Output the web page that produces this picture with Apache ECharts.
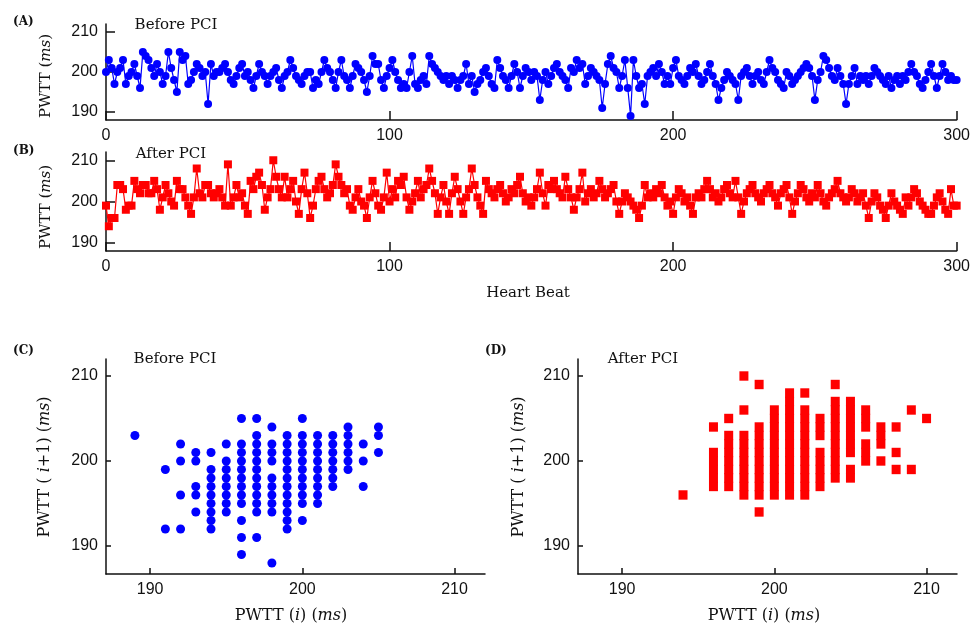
<!DOCTYPE html>
<html>
<head>
<meta charset="utf-8">
<script src="https://cdn.jsdelivr.net/npm/echarts@6/dist/echarts.min.js"></script>
<style>
body { margin: 0; background: #fff; }
#main { width: 973px; height: 625px; }
</style>
</head>
<body>
<div id="main"></div>
<script>
// PWTT series, heart beat 0..300
var pwttBefore = [
	200,203,201,197,200,201,203,197,199,200,202,199,196,205,204,203,201,199,202,200,197,199,205,201,198,
	195,205,203,204,197,198,200,202,201,199,200,192,202,199,200,200,201,202,200,198,197,199,201,202,199,
	200,198,196,199,202,200,199,197,199,200,201,198,196,199,200,203,201,199,198,197,199,200,200,196,198,
	197,200,203,201,200,198,196,200,203,199,198,196,199,202,201,200,198,195,199,204,202,202,198,196,199,
	201,203,200,198,196,197,196,200,204,197,196,198,199,197,204,202,201,200,199,198,199,197,199,198,196,
	198,199,202,197,199,195,197,198,200,201,199,197,196,203,201,199,198,196,199,202,200,196,199,201,200,
	198,200,199,193,198,200,197,199,201,202,200,199,198,196,201,200,203,201,202,197,199,201,200,199,198,
	191,197,202,204,201,200,196,199,203,196,189,203,199,196,197,192,199,200,201,199,202,200,197,199,197,
	201,203,199,198,197,199,201,200,202,199,197,198,200,202,199,197,193,196,198,200,199,198,197,193,199,
	200,201,199,197,199,200,198,197,200,203,201,200,198,197,196,200,199,197,198,199,200,201,202,201,199,
	193,198,200,204,203,201,199,198,201,199,197,192,197,199,201,197,199,198,199,197,199,201,200,199,198,
	197,199,196,198,199,197,199,198,200,202,200,199,197,196,198,200,202,199,196,199,202,200,198,199,198,198
];
var pwttAfter = [
	199,194,196,196,204,204,203,198,199,199,205,203,202,204,204,202,202,205,203,198,201,204,202,200,199,
	205,203,203,201,199,197,201,208,202,201,204,204,202,201,202,203,201,199,209,199,201,204,201,202,199,
	197,205,203,206,207,204,198,201,203,210,206,203,201,206,201,203,205,200,197,203,207,202,196,199,203,
	205,206,203,201,202,204,209,206,204,202,203,199,198,201,203,200,199,196,201,205,202,199,198,201,207,
	200,203,201,205,204,206,201,198,200,202,205,201,203,204,208,205,202,197,201,204,200,197,202,206,203,
	200,197,201,203,208,204,201,199,197,205,203,202,201,203,204,202,200,201,203,202,204,206,202,200,201,
	199,201,203,207,202,199,204,203,205,203,202,201,206,203,201,198,201,203,207,200,202,203,201,202,205,
	203,201,202,203,204,200,197,200,202,201,200,199,198,196,199,204,201,202,201,203,202,204,201,199,200,
	197,201,203,202,200,201,199,197,201,202,201,203,205,203,201,202,200,201,203,204,202,201,205,201,197,
	200,202,203,204,202,201,200,202,203,204,202,201,199,202,203,204,201,197,200,202,204,203,201,200,202,
	201,204,202,200,199,201,202,203,205,202,201,200,201,203,202,200,201,202,199,196,200,202,201,199,198,
	196,199,202,200,199,198,197,201,199,201,203,202,200,199,198,197,197,199,201,202,200,198,197,203,199,199
];

// Poincare plots: PWTT(i) columns and the PWTT(i+1) values seen in each
var beforeMapX = [189, 191, 192, 193, 194, 195, 196, 197, 198, 199, 200, 201, 202, 203, 204, 205];
var beforeMapY = [
	[203],
	[199, 192],
	[202, 200, 196, 192],
	[201, 200, 197, 196, 194],
	[201, 199, 198, 197, 196, 195, 194, 193, 192],
	[202, 200, 199, 198, 197, 196, 195, 194],
	[205, 202, 201, 200, 199, 198, 197, 196, 195, 193, 191, 189],
	[205, 203, 202, 201, 200, 199, 198, 197, 196, 195, 194, 191],
	[204, 202, 201, 200, 198, 197, 196, 195, 194, 188],
	[203, 202, 201, 200, 199, 198, 197, 196, 195, 194, 193, 192],
	[205, 203, 202, 201, 200, 199, 198, 197, 196, 195, 193],
	[203, 202, 201, 200, 199, 198, 197, 196, 195],
	[203, 202, 201, 200, 199, 198, 197],
	[204, 203, 202, 201, 200, 199],
	[202, 200, 197],
	[204, 203, 201]
];
var afterMapX = [194, 196, 197, 198, 199, 200, 201, 202, 203, 204, 205, 206, 207, 208, 209, 210];
var afterMapY = [
	[196],
	[204, 201, 200, 199, 198, 197],
	[205, 203, 202, 201, 200, 199, 198, 197],
	[210, 206, 203, 202, 201, 200, 199, 198, 197, 196],
	[209, 204, 203, 202, 201, 200, 199, 198, 197, 196, 194],
	[206, 205, 204, 203, 202, 201, 200, 199, 198, 197, 196],
	[208, 207, 206, 205, 204, 203, 202, 201, 200, 199, 198, 197, 196],
	[208, 206, 205, 204, 203, 202, 201, 200, 199, 198, 197, 196],
	[205, 204, 203, 201, 200, 199, 198, 197],
	[209, 207, 206, 205, 204, 203, 202, 201, 200, 199, 198],
	[207, 206, 205, 204, 203, 202, 201, 199, 198],
	[206, 205, 204, 202, 201, 200],
	[204, 203, 202, 200],
	[204, 201, 199],
	[206, 199],
	[205]
];

var heartTicks = [0, 100, 200, 300];
var pwttTicks = [190, 200, 210];

function toPairs(list) {
	var out = [];
	for (var i = 0; i < list.length; i++) {
		out.push([i, list[i]]);
	}
	return out;
}

function mapPairs(xs, ys) {
	var out = [];
	for (var i = 0; i < xs.length; i++) {
		for (var j = 0; j < ys[i].length; j++) {
			out.push([xs[i], ys[i][j]]);
		}
	}
	return out;
}

var tickFont = 'Liberation Sans';
var serif = 'DejaVu Serif';

function makeAxis(grid, min, max, ticks, tickLen) {
	return {
		type : 'value',
		gridIndex : grid,
		min : min,
		max : max,
		splitLine : { show : false },
		axisLine : { show : true, lineStyle : { color : '#111', width : 1.5 } },
		axisTick : { show : true, inside : true, length : tickLen, customValues : ticks,
			lineStyle : { color : '#111', width : 1.5 } },
		axisLabel : { customValues : ticks, color : '#111', fontSize : 16, fontFamily : tickFont, margin : 8 }
	};
}

function label(x, y, parts, size, rotate) {
	var rich = {
		n : { fontFamily : serif, fontSize : size, fill : '#111' },
		i : { fontFamily : serif, fontSize : size, fontStyle : 'italic', fill : '#111' }
	};
	return {
		type : 'text',
		x : x,
		y : y,
		rotation : rotate ? Math.PI / 2 : 0,
		style : {
			text : parts,
			rich : rich,
			fontFamily : serif,
			fontSize : size,
			align : 'center',
			verticalAlign : 'middle',
			fill : '#111'
		}
	};
}

function panelTag(x, y, txt) {
	return {
		type : 'text',
		x : x,
		y : y,
		style : { text : txt, font : 'bold 12px "DejaVu Serif"', fill : '#111', verticalAlign : 'middle' }
	};
}

var myChart = echarts.init(document.getElementById('main'));

var option = {
	animation : false,
	backgroundColor : '#fff',
	grid : [
		{ left : 106, top : 24, width : 851, height : 96 },
		{ left : 106, top : 152, width : 851, height : 99 },
		{ left : 106, top : 359, width : 379, height : 215 },
		{ left : 578, top : 359, width : 379, height : 215 }
	],
	xAxis : [
		makeAxis(0, 0, 300, heartTicks, 9),
		makeAxis(1, 0, 300, heartTicks, 9),
		makeAxis(2, 187.1, 212, pwttTicks, 6),
		makeAxis(3, 187.1, 212, pwttTicks, 6)
	],
	yAxis : [
		makeAxis(0, 188, 212, pwttTicks, 9),
		makeAxis(1, 188, 212, pwttTicks, 9),
		makeAxis(2, 186.7, 212, pwttTicks, 5),
		makeAxis(3, 186.7, 212, pwttTicks, 5)
	],
	series : [ {
		type : 'line',
		xAxisIndex : 0,
		yAxisIndex : 0,
		data : toPairs(pwttBefore),
		symbol : 'circle',
		symbolSize : 8,
		showAllSymbol : true,
		lineStyle : { color : '#0000ff', width : 1.2 },
		itemStyle : { color : '#0000ff' }
	}, {
		type : 'line',
		xAxisIndex : 1,
		yAxisIndex : 1,
		data : toPairs(pwttAfter),
		symbol : 'rect',
		symbolSize : 8,
		showAllSymbol : true,
		lineStyle : { color : '#ff0000', width : 1.2 },
		itemStyle : { color : '#ff0000' }
	}, {
		type : 'scatter',
		xAxisIndex : 2,
		yAxisIndex : 2,
		data : mapPairs(beforeMapX, beforeMapY),
		symbol : 'circle',
		symbolSize : 9,
		itemStyle : { color : '#0000ff', opacity : 1 }
	}, {
		type : 'scatter',
		xAxisIndex : 3,
		yAxisIndex : 3,
		data : mapPairs(afterMapX, afterMapY),
		symbol : 'rect',
		symbolSize : [9, 9.4],
		itemStyle : { color : '#ff0000', opacity : 1 }
	} ],
	graphic : [
		panelTag(13, 22, '(A)'),
		panelTag(13, 151, '(B)'),
		panelTag(13, 351, '(C)'),
		panelTag(485, 351, '(D)'),
		label(176, 25, '{n|Before PCI}', 15, false),
		label(171, 154, '{n|After PCI}', 15, false),
		label(175, 359, '{n|Before PCI}', 15, false),
		label(643, 359, '{n|After PCI}', 15, false),
		label(528, 293, '{n|Heart Beat}', 15, false),
		label(46, 76, '{n|PWTT (}{i|ms}{n|)}', 15, true),
		label(46, 207, '{n|PWTT (}{i|ms}{n|)}', 15, true),
		label(45, 467, '{n|PWTT ( }{i|i}{n|+1) (}{i|ms}{n|)}', 16, true),
		label(519, 467, '{n|PWTT ( }{i|i}{n|+1) (}{i|ms}{n|)}', 16, true),
		label(291, 616, '{n|PWTT (}{i|i}{n|) (}{i|ms}{n|)}', 16, false),
		label(764, 616, '{n|PWTT (}{i|i}{n|) (}{i|ms}{n|)}', 16, false)
	]
};
myChart.setOption(option);
</script>
</body>
</html>
